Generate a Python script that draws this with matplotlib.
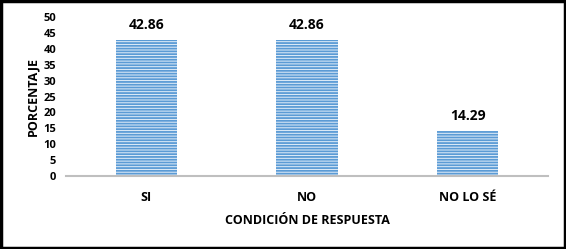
import matplotlib.pyplot as plt
from matplotlib.patches import Rectangle

# data
categorias = ['SI', 'NO', 'NO LO SÉ']
porcentaje = [42.86, 42.86, 14.29]
yticks = [0, 5, 10, 15, 20, 25, 30, 35, 40, 45, 50]

plt.rcParams['font.family'] = ['Open Sans', 'DejaVu Sans']
plt.rcParams['hatch.linewidth'] = 1.3
plt.rcParams['hatch.color'] = '#5b9bd5'

fig = plt.figure(figsize=(5.66, 2.49), dpi=100)
ax = fig.add_axes([66/566, 1-176/249, (548-66)/566, (176-17)/249])

x = range(len(categorias))
bars = ax.bar(x, porcentaje, width=0.38, color='#e3eef9', edgecolor='#5b9bd5',
              linewidth=0, hatch='------')

for xi, v in zip(x, porcentaje):
    ax.text(xi, v + 2.4, f'{v:.2f}', ha='center', va='bottom',
            fontsize=10, fontweight='bold', color='black')

ax.set_xlim(-0.5, 2.5)
ax.set_ylim(0, 50)
ax.set_yticks(yticks)
ax.set_xticks(list(x))
ax.set_xticklabels(categorias, fontsize=9, fontweight='bold')
ax.tick_params(axis='y', length=0, pad=7, labelsize=8)
ax.tick_params(axis='x', length=0, pad=11)
for lab in ax.get_yticklabels():
    lab.set_fontweight('bold')

for s in ['top', 'right', 'left']:
    ax.spines[s].set_visible(False)
ax.spines['bottom'].set_color('#bfbfbf')
ax.spines['bottom'].set_linewidth(1.5)

ax.set_xlabel('CONDICIÓN DE RESPUESTA', fontsize=9, fontweight='bold', labelpad=7)
ax.set_ylabel('PORCENTAJE', fontsize=9, fontweight='bold', labelpad=3)

# marco negro alrededor
fig.patches.append(Rectangle((0.002, 0.004), 0.996, 0.992, transform=fig.transFigure,
                             fill=False, edgecolor='black', linewidth=2.5))

fig.savefig('out.png', dpi=100)
